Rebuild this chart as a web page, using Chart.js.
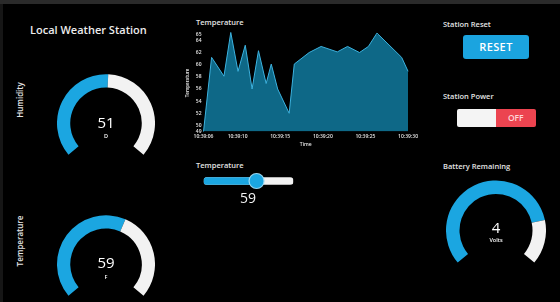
<!DOCTYPE html>
<html><head><meta charset="utf-8">
<script src="https://cdn.jsdelivr.net/npm/chart.js@4"></script>
<style>
html,body{margin:0;padding:0;background:#000;}
body{width:560px;height:302px;position:relative;overflow:hidden;font-family:"Open Sans",sans-serif;color:#e4e4e4;}
.topbar{position:absolute;left:0;top:0;width:560px;height:4px;background:#2a2a2a;}
.leftbar{position:absolute;left:0;top:4px;width:3px;height:298px;background:#161616;}
canvas{position:absolute;display:block;}
.lbl{position:absolute;font-size:7.5px;font-weight:600;white-space:nowrap;line-height:1;transform:translateY(-50%);}
.vlbl{position:absolute;font-size:8px;font-weight:600;white-space:nowrap;line-height:1;transform:translate(-50%,-50%) rotate(-90deg);}
.title{position:absolute;left:30px;top:29px;font-size:11px;font-weight:600;white-space:nowrap;line-height:1;transform:translateY(-50%);color:#ececec;}
.btn{position:absolute;left:463px;top:35px;width:66px;height:24px;background:#1ba4df;border-radius:3px;color:#fff;font-size:11px;font-weight:600;text-align:center;line-height:24px;letter-spacing:0.4px;}
.tog{position:absolute;left:457px;top:108.5px;width:79px;height:18.5px;border-radius:2px;overflow:hidden;}
.tog .w{position:absolute;left:0;top:0;width:38.5px;height:100%;background:#f4f4f4;}
.tog .r{position:absolute;left:38.5px;top:0;right:0;height:100%;background:#ec4450;color:#ffd6d8;font-size:8.5px;font-weight:600;text-align:center;line-height:18.5px;}
.sval{position:absolute;left:248px;top:198px;font-size:14px;transform:translate(-50%,-50%);line-height:1;color:#f2f2f2;}
</style></head>
<body>
<div class="topbar"></div><div class="leftbar"></div>
<div class="title">Local Weather Station</div>
<div class="vlbl" style="left:20px;top:100px;">Humidity</div>
<div class="vlbl" style="left:20px;top:241px;">Temperature</div>
<div class="lbl" style="left:196px;top:23px;">Temperature</div>
<div class="lbl" style="left:196px;top:166px;">Temperature</div>
<div class="lbl" style="left:443px;top:25px;">Station Reset</div>
<div class="btn">RESET</div>
<div class="lbl" style="left:443px;top:97px;">Station Power</div>
<div class="tog"><div class="w"></div><div class="r">OFF</div></div>
<div class="lbl" style="left:443px;top:167px;">Battery Remaining</div>

<canvas id="line" width="235" height="135" style="left:185px;top:15px;"></canvas>
<canvas id="slider" width="108" height="26" style="left:195px;top:168px;"></canvas>
<div class="sval" id="sval"></div>
<canvas id="g0" width="98" height="81" style="left:57px;top:74px;"></canvas>
<canvas id="g1" width="98" height="81" style="left:57px;top:215px;"></canvas>
<canvas id="g2" width="100" height="83" style="left:446px;top:180px;"></canvas>

<script>
// ---- data ----
const timeSeconds = [6, 6.95, 8.4, 9.2, 10.05, 10.9, 11.7, 12.45, 13.35, 13.95, 14.7, 16.05, 16.65, 18.4, 19.8, 21.7, 22.9, 24.3, 25.35, 26.35, 29.25, 30];
const temperatures = [49, 61.2, 58.1, 65.3, 58.9, 63.2, 56, 62.3, 56.9, 60.1, 56, 52, 60.1, 62, 63, 62.1, 63, 62, 63, 65.2, 61.2, 58.9];
const timePrefix = "10:39:";
const xTickSeconds = [6, 10, 15, 20, 25, 30];
const yTickValues = [49, 50, 52, 54, 56, 58, 60, 62, 64, 65];

const gaugeNames = ["Humidity", "Temperature", "Battery Remaining"];
const gaugeValues = [51, 59, 4];
const gaugeMax = [100, 100, 5];
const gaugeUnits = ["D", "F", "Volts"];

const sliderValue = 59;
const sliderMax = 100;

// ---- style ----
const BLUE = '#1ba6e1';
const WHITE = '#f2f2f2';
Chart.defaults.font.family = '"Open Sans", sans-serif';
Chart.defaults.color = '#e6e6e6';
Chart.defaults.animation = false;

// ---- line chart ----
new Chart(document.getElementById('line'), {
  type: 'line',
  data: {
    datasets: [{
      data: timeSeconds.map((t, i) => ({x: t, y: temperatures[i]})),
      borderColor: '#3cb2df',
      borderWidth: 1,
      backgroundColor: '#0e6887',
      fill: 'start',
      pointRadius: 0,
      tension: 0,
      clip: 4
    }]
  },
  options: {
    responsive: false,
    events: [],
    layout: {padding: {left: 0, right: 10, top: 19.3, bottom: 0}},
    plugins: {legend: {display: false}, tooltip: {enabled: false}},
    scales: {
      x: {
        type: 'linear', min: timeSeconds[0], max: timeSeconds[timeSeconds.length - 1],
        afterBuildTicks: s => { s.ticks = xTickSeconds.map(v => ({value: v})); },
        afterFit: s => { s.height = 18.5; },
        grid: {display: false, drawTicks: false},
        border: {display: false},
        ticks: {font: {size: 5, weight: '600'}, padding: 2, maxRotation: 0, autoSkip: false,
          callback: v => timePrefix + String(Math.floor(v)).padStart(2, '0')},
        title: {display: true, text: 'Time', font: {size: 5, weight: '600'}, padding: {top: 0, bottom: 2}}
      },
      y: {
        min: 49, max: 65,
        afterBuildTicks: s => { s.ticks = yTickValues.map(v => ({value: v})); },
        afterFit: s => { s.width = 18.5; },
        z: 1,
        grid: {color: 'rgba(0,0,0,0.18)', drawTicks: false, lineWidth: 1},
        border: {display: false},
        ticks: {font: {size: 5, weight: '600'}, padding: 2, autoSkip: false},
        title: {display: true, text: 'Temperature', font: {size: 4.5, weight: '600'}, padding: {top: 0, bottom: 1}}
      }
    }
  }
});

// ---- slider ----
document.getElementById('sval').textContent = sliderValue;
new Chart(document.getElementById('slider'), {
  type: 'bar',
  data: {
    labels: ['t'],
    datasets: [
      {type: 'scatter', data: [{x: sliderValue, y: 't'}], backgroundColor: BLUE, borderColor: 'rgba(160,220,245,0.95)', borderWidth: 1.2, pointRadius: 7.5, order: 0, clip: false},
      {indexAxis: 'y', data: [sliderValue], backgroundColor: BLUE, borderRadius: 4, borderSkipped: false, barThickness: 7, grouped: false, order: 1},
      {indexAxis: 'y', data: [sliderMax], backgroundColor: WHITE, borderRadius: 4, borderSkipped: false, barThickness: 7, grouped: false, order: 2}
    ]
  },
  options: {
    responsive: false,
    events: [],
    layout: {padding: {left: 8.3, right: 9.7, top: 0, bottom: 0}},
    plugins: {legend: {display: false}, tooltip: {enabled: false}},
    scales: {
      x: {type: 'linear', min: 0, max: sliderMax, offset: false, display: false},
      y: {type: 'category', labels: ['t'], offset: true, display: false}
    }
  }
});

// ---- gauges ----
const centerText = {
  id: 'centerText',
  afterDatasetsDraw(chart, args, opts) {
    const arc = chart.getDatasetMeta(0).data[0];
    const ctx = chart.ctx;
    ctx.save();
    ctx.fillStyle = '#ffffff';
    ctx.textAlign = 'center';
    ctx.textBaseline = 'middle';
    ctx.font = '400 15px "Open Sans"';
    ctx.fillText(opts.value, arc.x, arc.y + opts.dy);
    ctx.font = '600 5.5px "Open Sans"';
    ctx.fillText(opts.unit, arc.x, arc.y + opts.dy2);
    ctx.restore();
  }
};
const gaugeOffsets = [[0, 13], [-1, 13], [-2, 10]];
gaugeValues.forEach((v, i) => {
  new Chart(document.getElementById('g' + i), {
    type: 'doughnut',
    data: {
      labels: [gaugeNames[i], ''],
      datasets: [{data: [v, gaugeMax[i] - v], backgroundColor: [BLUE, WHITE], borderWidth: 0}]
    },
    options: {
      responsive: false,
      events: [],
      rotation: -130,
      circumference: 260,
      cutout: '73%',
      plugins: {legend: {display: false}, tooltip: {enabled: false},
        centerText: {value: String(v), unit: gaugeUnits[i], dy: gaugeOffsets[i][0], dy2: gaugeOffsets[i][1]}}
    },
    plugins: [centerText]
  });
});
</script>
</body></html>
